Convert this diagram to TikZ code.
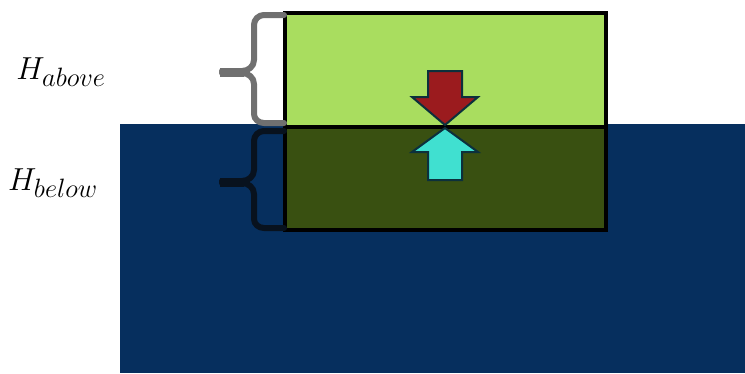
\documentclass[tikz,border=0pt]{standalone}
\usetikzlibrary{calc}
\definecolor{water}{RGB}{6,47,94}
\definecolor{lightgreen}{RGB}{169,221,95}
\definecolor{darkolive}{RGB}{57,80,17}
\definecolor{arrowred}{RGB}{155,27,30}
\definecolor{arrowcyan}{RGB}{64,224,208}
\definecolor{outlineteal}{RGB}{12,48,60}
\definecolor{bracegray}{RGB}{112,112,112}
\definecolor{bracedark}{RGB}{8,18,30}
\tikzset{
  boxline/.style={draw=black, line width=4pt},
  bracestyle/.style={line width=6pt, line cap=round, line join=round},
  tipstyle/.style={line width=9pt, line cap=butt},
  arrowshape/.style={draw=outlineteal, line width=2pt, line join=miter},
  lbl/.style={font=\fontsize{24.88}{30}\selectfont, inner sep=0pt, scale=1.28}
}
\begin{document}
\begin{tikzpicture}[x=1pt,y=-1pt]
\useasboundingbox (0,0) rectangle (745,373);
% water
\fill[water] (120,124) rectangle (745,373);
% box halves
\fill[lightgreen] (285,13) rectangle (606,127);
\fill[darkolive] (285,127) rectangle (606,230);
\draw[boxline] (285,13) rectangle (606,230);
\draw[boxline] (285,127) -- (606,127);
% upper brace
\draw[bracestyle, bracegray] (284,15) -- (264,15) to[out=180,in=90] (254,25) -- (254,60)
  to[out=-90,in=0] (242,71) -- (222,71);
\draw[bracestyle, bracegray] (222,73) -- (242,73) to[out=0,in=90] (254,84) -- (254,114)
  to[out=-90,in=180] (264,123) -- (284,123);
\draw[tipstyle, bracegray] (220,72) -- (244,72);
% lower brace
\draw[bracestyle, bracedark] (284,131) -- (264,131) to[out=180,in=90] (254,141) -- (254,170)
  to[out=-90,in=0] (242,181) -- (222,181);
\draw[bracestyle, bracedark] (222,183) -- (242,183) to[out=0,in=90] (254,194) -- (254,219)
  to[out=-90,in=180] (264,228) -- (284,228);
\draw[tipstyle, bracedark] (220,182) -- (244,182);
% labels
\node[lbl] (above) at (61,72) {$H_{above}$};
\node[lbl] (below) at (53,183) {$H_{below}$};
% red arrow down
\draw[arrowshape, fill=arrowred] (428,71) -- (462,71) -- (462,97) -- (478,97) -- (445,125)
  -- (412,97) -- (428,97) -- cycle;
% cyan arrow up
\draw[arrowshape, fill=arrowcyan] (428,180) -- (462,180) -- (462,152) -- (478,152) -- (445,128)
  -- (412,152) -- (428,152) -- cycle;
\end{tikzpicture}
\end{document}
